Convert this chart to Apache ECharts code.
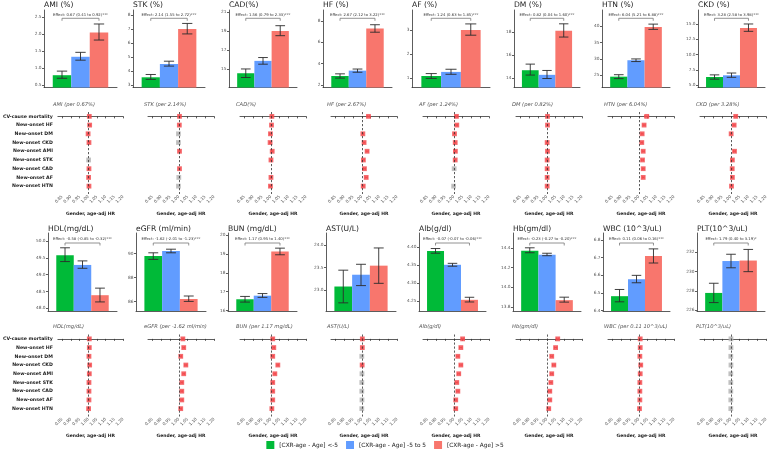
<!DOCTYPE html>
<html><head><meta charset="utf-8">
<script src="https://cdn.jsdelivr.net/npm/echarts@6/dist/echarts.min.js"></script>
<style>html,body{margin:0;padding:0;background:#fff}#c{width:770px;height:450px}</style>
</head><body><div id="c"></div>
<script>
// ---------- data ----------
const groupNames = ['[CXR-age - Age] <-5', '[CXR-age - Age] -5 to 5', '[CXR-age - Age] >5'];
const outcomes = ['CV-cause mortality','New-onset HF','New-onset DM','New-onset CKD','New-onset AMI','New-onset STK','New-onset CAD','New-onset AF','New-onset HTN'];
const forestTicks = ['0.85','0.90','0.95','1.00','1.05','1.10','1.15','1.20'];
const forestName = 'Gender, age-adj HR';

const barTitlesTop = ['AMI (%)','STK (%)','CAD(%)','HF (%)','AF (%)','DM (%)','HTN (%)','CKD (%)'];
const meanTop = [[0.79,1.33,2.04],[3.55,4.5,7.0],[14.55,15.85,19.0],[2.85,3.35,7.3],[1.08,1.25,3.0],[14.67,14.27,18.1],[24.6,29.6,39.7],[6.35,6.63,14.35]];
const lowTop  = [[0.70,1.23,1.82],[3.4,4.35,6.65],[14.1,15.5,18.5],[2.65,3.2,6.95],[0.98,1.15,2.78],[14.25,13.95,17.55],[24.0,29.2,39.0],[6.0,6.3,13.8]];
const highTop = [[0.91,1.46,2.29],[3.75,4.7,7.4],[15.0,16.2,19.55],[3.05,3.5,7.65],[1.18,1.36,3.25],[15.2,14.65,18.7],[25.2,30.0,40.6],[6.7,7.0,15.0]];
const rangeTop = [[0.43,2.7],[2.82,8.36],[13.05,21.2],[1.77,9.03],[0.6,3.83],[13.17,19.9],[21.3,44.9],[4.64,17.28]];
const ticksTop = [['0.5','1.0','1.5','2.0','2.5'],['3','4','5','6','7','8'],['15','17','19','21'],['2','4','6','8'],['1','2','3'],['14','16','18'],['25','30','35','40'],['5.0','7.5','10.0','12.5','15.0']];
const effectTop = ['Effect: 0.67 (0.41 to 0.92)***','Effect: 2.14 (1.55 to 2.72)***','Effect: 1.56 (0.79 to 2.33)***','Effect: 2.67 (2.12 to 3.22)***','Effect: 1.24 (0.63 to 1.85)***','Effect: 0.82 (0.04 to 1.60)***','Effect: 6.04 (5.21 to 6.88)***','Effect: 3.28 (2.58 to 3.98)***'];

const barTitlesBot = ['HDL(mg/dL)','eGFR (ml/min)','BUN (mg/dL)','AST(U/L)','Alb(g/dl)','Hb(gm/dl)','WBC (10^3/uL)','PLT(10^3/uL)'];
const meanBot = [[49.58,49.29,48.39],[89.78,90.2,86.2],[16.6,16.79,19.12],[23.08,23.34,23.54],[4.389,4.351,4.254],[14.37,14.33,13.87],[6.482,6.578,6.71],[227.8,231.1,231.15]];
const lowBot  = [[49.39,49.19,48.19],[89.5,90.05,86.0],[16.45,16.7,18.95],[22.72,23.1,23.15],[4.383,4.347,4.248],[14.35,14.32,13.85],[6.45,6.558,6.67],[226.8,230.4,230.0]];
const highBot = [[49.8,49.41,48.6],[90.05,90.35,86.45],[16.75,16.9,19.3],[23.44,23.57,23.93],[4.396,4.355,4.261],[14.4,14.345,13.9],[6.52,6.6,6.75],[228.8,231.8,232.3]];
const rangeBot = [[47.92,50.24],[85.2,91.7],[15.98,20.1],[22.54,24.26],[4.223,4.439],[13.76,14.55],[6.398,6.84],[225.93,234.0]];
const ticksBot = [['48.0','48.5','49.0','49.5','50.0'],['86','88','90'],['16','17','18','19','20'],['23.0','23.5','24.0'],['4.25','4.30','4.35','4.40'],['13.8','14.0','14.2','14.4'],['6.4','6.5','6.6','6.7','6.8'],['226','228','230','232']];
const effectBot = ['Effect: -0.58 (-0.85 to -0.32)***','Effect: -1.62 (-2.01 to -1.23)***','Effect: 1.17 (0.95 to 1.40)***',null,'Effect: -0.07 (-0.07 to -0.06)***','Effect: -0.23 (-0.27 to -0.20)***','Effect: 0.11 (0.06 to 0.16)***','Effect: 1.79 (0.40 to 3.19)*'];

const forestTitlesTop = ['AMI (per 0.67%)','STK (per 2.14%)','CAD(%)','HF (per 2.67%)','AF (per 1.24%)','DM (per 0.82%)','HTN (per 6.04%)','CKD (per 3.28%)'];
const hrTop = [
 [1.006,1.008,0.999,1.004,null,1.002,1.004,1.002,1.004],
 [1.004,1.003,0.998,0.998,1.004,null,1.004,1.000,0.998],
 [1.006,1.004,0.998,0.996,1.008,1.001,null,1.001,0.998],
 [1.038,null,1.006,1.013,1.030,1.009,1.015,1.025,1.008],
 [1.015,1.017,1.004,1.008,1.009,1.008,1.002,null,0.999],
 [1.004,1.004,null,1.002,1.004,1.002,1.002,1.002,1.002],
 [1.045,1.030,1.019,1.017,1.025,1.021,1.025,1.025,null],
 [1.028,1.019,1.002,null,1.021,1.009,1.008,1.009,1.004]];
const loTop = [
 [1.002,1.004,0.995,1.000,null,0.998,1.000,0.998,1.000],
 [1.001,1.000,0.995,0.995,1.001,null,1.001,0.997,0.995],
 [1.002,1.000,0.994,0.992,1.004,0.997,null,0.997,0.994],
 [1.030,null,1.002,1.008,1.024,1.004,1.010,1.019,1.004],
 [1.010,1.012,1.000,1.004,1.005,1.004,0.998,null,0.995],
 [1.001,1.001,null,0.999,1.001,0.999,0.999,0.999,0.999],
 [1.034,1.024,1.014,1.012,1.019,1.016,1.020,1.020,null],
 [1.023,1.014,0.998,null,1.016,1.005,1.004,1.005,1.000]];
const hiTop = [
 [1.010,1.012,1.003,1.008,null,1.006,1.008,1.006,1.008],
 [1.007,1.006,1.001,1.001,1.007,null,1.007,1.003,1.001],
 [1.010,1.008,1.002,1.000,1.012,1.005,null,1.005,1.002],
 [1.046,null,1.010,1.018,1.036,1.014,1.020,1.031,1.012],
 [1.020,1.022,1.008,1.012,1.013,1.012,1.006,null,1.003],
 [1.007,1.007,null,1.005,1.007,1.005,1.005,1.005,1.005],
 [1.056,1.036,1.024,1.022,1.031,1.026,1.030,1.030,null],
 [1.033,1.024,1.006,null,1.026,1.013,1.012,1.013,1.008]];
const sigTop = [
 [1,1,1,1,0,0,1,1,1],
 [1,1,0,0,1,0,1,0,0],
 [1,1,1,1,1,1,0,1,1],
 [1,0,1,1,1,1,1,1,1],
 [1,1,1,1,1,1,0,0,0],
 [1,1,0,1,1,1,1,1,1],
 [1,1,1,1,1,1,1,1,0],
 [1,1,1,0,1,1,1,1,1]];

const forestTitlesBot = ['HDL(mg/dL)','eGFR (per -1.62 ml/min)','BUN (per 1.17 mg/dL)','AST(U/L)','Alb(g/dl)','Hb(gm/dl)','WBC (per 0.11 10^3/uL)','PLT(10^3/uL)'];
const hrBot = [
 [1.006,1.006,1.004,1.008,1.006,1.004,1.004,1.004,1.002],
 [1.023,1.028,1.011,1.040,1.028,1.017,1.017,1.017,1.011],
 [1.011,1.017,1.011,1.040,1.023,1.011,1.011,1.011,1.006],
 [1.003,1.003,1.000,1.002,1.001,1.000,1.000,1.001,1.000],
 [1.050,1.040,1.023,1.040,1.028,1.017,1.023,1.011,1.011],
 [1.062,1.050,1.028,1.040,1.028,1.023,1.017,1.017,1.011],
 [1.008,1.008,1.006,1.011,1.008,1.006,1.006,1.006,1.004],
 [1.001,1.001,1.000,1.001,1.000,1.000,1.000,1.000,1.000]];
const loBot = [
 [1.002,1.002,1.000,1.004,1.002,1.000,1.000,1.000,0.998],
 [1.018,1.023,1.006,1.034,1.023,1.012,1.012,1.012,1.006],
 [1.007,1.013,1.007,1.035,1.018,1.007,1.007,1.007,1.002],
 [1.000,1.000,0.997,0.999,0.998,0.997,0.997,0.998,0.997],
 [1.043,1.033,1.017,1.033,1.022,1.011,1.017,1.005,1.005],
 [1.055,1.043,1.022,1.033,1.022,1.017,1.011,1.011,1.005],
 [1.005,1.005,1.003,1.007,1.005,1.003,1.003,1.003,1.001],
 [0.998,0.998,0.997,0.998,0.997,0.997,0.997,0.997,0.997]];
const hiBot = [
 [1.010,1.010,1.008,1.012,1.010,1.008,1.008,1.008,1.006],
 [1.028,1.033,1.016,1.046,1.033,1.022,1.022,1.022,1.016],
 [1.015,1.021,1.015,1.045,1.028,1.015,1.015,1.015,1.010],
 [1.006,1.006,1.003,1.005,1.004,1.003,1.003,1.004,1.003],
 [1.057,1.047,1.029,1.047,1.034,1.023,1.029,1.017,1.017],
 [1.069,1.057,1.034,1.047,1.034,1.029,1.023,1.023,1.017],
 [1.011,1.011,1.009,1.015,1.011,1.009,1.009,1.009,1.007],
 [1.004,1.004,1.003,1.004,1.003,1.003,1.003,1.003,1.003]];
const sigBot = [
 [1,1,1,1,1,1,1,1,1],
 [1,1,1,1,1,1,1,1,1],
 [1,1,1,1,1,1,1,1,1],
 [1,1,0,1,0,0,0,0,0],
 [1,1,1,1,1,1,1,1,1],
 [1,1,1,1,1,1,1,1,1],
 [1,1,1,1,1,1,1,1,1],
 [0,0,0,0,0,0,0,0,0]];

// ---------- layout / style ----------
const FONT = 'DejaVu Sans';
const BAR_GAP = 0.24;
const barColors = ['#00BA38', '#619CFF', '#F8766D'];
const sigColor = '#f2474b', nsColor = '#b4b4b4';
const forestLeft = [57,148,240,331,423,516,608,700];
const forestWidth = 66, forestHeight = 82;

const rows = [
  {titles: barTitlesTop, mean: meanTop, low: lowTop, high: highTop, range: rangeTop, ticks: ticksTop, effect: effectTop,
   left: [44,133,229,323,412,514,602,698], width: [73,72,68,69,78,66,68,67], top: 10, height: 77.5,
   titleTop: 1, textOff: 5, brOff: 8.3,
   fTitles: forestTitlesTop, hr: hrTop, lo: loTop, hi: hiTop, sig: sigTop, fTop: 112, fTitleTop: 102},
  {titles: barTitlesBot, mean: meanBot, low: lowBot, high: highBot, range: rangeBot, ticks: ticksBot, effect: effectBot,
   left: [48,136,228,326,419,513,603,697], width: [69,70,69,70,67,68,67,68], top: 233, height: 78,
   titleTop: 225.5, textOff: 6.5, brOff: 10,
   fTitles: forestTitlesBot, hr: hrBot, lo: loBot, hi: hiBot, sig: sigBot, fTop: 334.5, fTitleTop: 324}
];

const grids = [], xAxes = [], yAxes = [], series = [], titles = [];

function barErrRender(params, api) {
  const g = api.value(3);
  const pLo = api.coord([api.value(0), api.value(1)]);
  const pHi = api.coord([api.value(0), api.value(2)]);
  const band = api.size([1, 0])[0];
  const bw = band * (1 - BAR_GAP) / 3;
  const cx = pLo[0] + (g - 1) * bw;
  const cap = bw * 0.28;
  const st = {stroke: '#2b2b2b', lineWidth: 0.9, fill: null};
  return {type: 'group', children: [
    {type: 'line', shape: {x1: cx, y1: pLo[1], x2: cx, y2: pHi[1]}, style: st},
    {type: 'line', shape: {x1: cx - cap, y1: pLo[1], x2: cx + cap, y2: pLo[1]}, style: st},
    {type: 'line', shape: {x1: cx - cap, y1: pHi[1], x2: cx + cap, y2: pHi[1]}, style: st}
  ]};
}
function makeBracket(text, textOff, brOff) {
  return function (params, api) {
    const c = api.coord([api.value(0), api.value(1)]);
    const band = api.size([1, 0])[0];
    const bw = band * (1 - BAR_GAP) / 3;
    const x1 = c[0] - bw, x2 = c[0] + bw;
    const y = params.coordSys.y + brOff;
    const st = {stroke: '#777', lineWidth: 0.8, fill: null};
    return {type: 'group', children: [
      {type: 'line', shape: {x1: x1, y1: y, x2: x2, y2: y}, style: st},
      {type: 'line', shape: {x1: x1, y1: y, x2: x1, y2: y + 2.5}, style: st},
      {type: 'line', shape: {x1: x2, y1: y, x2: x2, y2: y + 2.5}, style: st},
      {type: 'text', style: {text: text, x: c[0], y: params.coordSys.y + textOff, align: 'center', verticalAlign: 'middle',
        fontSize: 3.8, fontFamily: FONT, fill: '#333'}}
    ]};
  };
}
function forestErrRender(params, api) {
  const a = api.coord([api.value(0), api.value(2)]);
  const b = api.coord([api.value(1), api.value(2)]);
  const col = api.value(3) ? sigColor : nsColor;
  const st = {stroke: col, lineWidth: 0.9, fill: null};
  return {type: 'group', children: [
    {type: 'line', shape: {x1: a[0], y1: a[1], x2: b[0], y2: b[1]}, style: st},
    {type: 'line', shape: {x1: a[0], y1: a[1] - 1.3, x2: a[0], y2: a[1] + 1.3}, style: st},
    {type: 'line', shape: {x1: b[0], y1: b[1] - 1.3, x2: b[0], y2: b[1] + 1.3}, style: st}
  ]};
}

rows.forEach((R) => {
  for (let p = 0; p < 8; p++) {
    // ---- bar panel ----
    const bi = grids.length;
    grids.push({left: R.left[p], top: R.top, width: R.width[p], height: R.height});
    xAxes.push({gridIndex: bi, type: 'category', data: [''],
      axisLine: {lineStyle: {color: '#333', width: 0.8}},
      axisTick: {alignWithLabel: true, length: 2, lineStyle: {color: '#333', width: 0.8}},
      axisLabel: {show: true, fontSize: 4}});
    const tv = R.ticks[p].map(Number);
    const tl = R.ticks[p];
    yAxes.push({gridIndex: bi, type: 'value', min: R.range[p][0], max: R.range[p][1],
      splitLine: {show: false},
      axisLine: {show: true, lineStyle: {color: '#333', width: 0.8}},
      axisTick: {show: true, length: 2, customValues: tv, lineStyle: {color: '#333', width: 0.8}},
      axisLabel: {customValues: tv, fontSize: 4.3, color: '#555', margin: 2.5, fontFamily: FONT,
        formatter: (v) => { const k = tv.indexOf(v); return k >= 0 ? tl[k] : ''; }}});
    for (let g = 0; g < 3; g++) {
      series.push({type: 'bar', name: groupNames[g], xAxisIndex: bi, yAxisIndex: bi,
        data: [R.mean[p][g]], itemStyle: {color: barColors[g]},
        barGap: '0%', barCategoryGap: (BAR_GAP * 100) + '%', z: 2});
    }
    series.push({type: 'custom', xAxisIndex: bi, yAxisIndex: bi, renderItem: barErrRender, z: 4, silent: true,
      data: [0, 1, 2].map(g => [0, R.low[p][g], R.high[p][g], g])});
    if (R.effect[p]) {
      series.push({type: 'custom', xAxisIndex: bi, yAxisIndex: bi, renderItem: makeBracket(R.effect[p], R.textOff, R.brOff),
        z: 4, silent: true, data: [[0, R.mean[p][0]]]});
    }
    titles.push({text: R.titles[p], left: R.left[p], top: R.titleTop, padding: 0,
      textStyle: {fontSize: 7.6, fontWeight: 'normal', color: '#222', fontFamily: FONT}});

    // ---- forest panel ----
    const fi = grids.length;
    grids.push({left: forestLeft[p], top: R.fTop, width: forestWidth, height: forestHeight});
    const ftv = forestTicks.map(Number);
    xAxes.push({gridIndex: fi, type: 'value', min: 0.825, max: 1.2,
      splitLine: {show: false},
      axisLine: {lineStyle: {color: '#333', width: 0.8}},
      axisTick: {customValues: ftv, length: 2, lineStyle: {color: '#333', width: 0.8}},
      axisLabel: {customValues: ftv, rotate: 45, fontSize: 4.2, color: '#555', margin: 2, fontFamily: FONT,
        formatter: (v) => v.toFixed(2)},
      name: forestName, nameLocation: 'middle', nameGap: 17,
      nameTextStyle: {fontSize: 4.5, fontWeight: 'bold', color: '#222', fontFamily: FONT}});
    yAxes.push({gridIndex: fi, type: 'value', inverse: true, min: -0.5, max: 8.9,
      splitLine: {show: false}, axisLine: {show: false}, axisTick: {show: false},
      axisLabel: {show: p === 0, customValues: outcomes.map((_, i) => i), fontSize: 4.7, fontWeight: 'bold',
        color: '#222', margin: 5, fontFamily: FONT, formatter: (v) => outcomes[v] || ''}});
    const pts = [], errs = [];
    for (let i = 0; i < outcomes.length; i++) {
      if (R.hr[p][i] == null) continue;
      const col = R.sig[p][i] ? sigColor : nsColor;
      pts.push({value: [R.hr[p][i], i], itemStyle: {color: col}});
      errs.push([R.lo[p][i], R.hi[p][i], i, R.sig[p][i]]);
    }
    series.push({type: 'custom', xAxisIndex: fi, yAxisIndex: fi, renderItem: forestErrRender, z: 3, silent: true, data: errs});
    series.push({type: 'scatter', xAxisIndex: fi, yAxisIndex: fi, symbol: 'rect', symbolSize: 4.8, z: 4, silent: true,
      data: pts,
      markLine: {silent: true, symbol: ['none', 'none'], label: {show: false},
        lineStyle: {type: [2.2, 1.8], color: '#333', width: 0.8}, data: [{xAxis: 1}]}});
    titles.push({text: R.fTitles[p], left: forestLeft[p] - 4, top: R.fTitleTop, padding: 0,
      textStyle: {fontSize: 5.2, fontWeight: 'normal', fontStyle: 'italic', color: '#555', fontFamily: FONT}});
  }
});

const chart = echarts.init(document.getElementById('c'), null, {renderer: 'canvas'});
chart.setOption({
  animation: false,
  backgroundColor: '#fff',
  textStyle: {fontFamily: FONT},
  title: titles,
  legend: {data: groupNames, top: 441, left: 'center', icon: 'rect', itemWidth: 8, itemHeight: 8, itemGap: 8,
    padding: 0, selectedMode: false, textStyle: {fontSize: 5.8, color: '#222', fontFamily: FONT}},
  grid: grids, xAxis: xAxes, yAxis: yAxes, series: series
});
</script>
</body></html>
